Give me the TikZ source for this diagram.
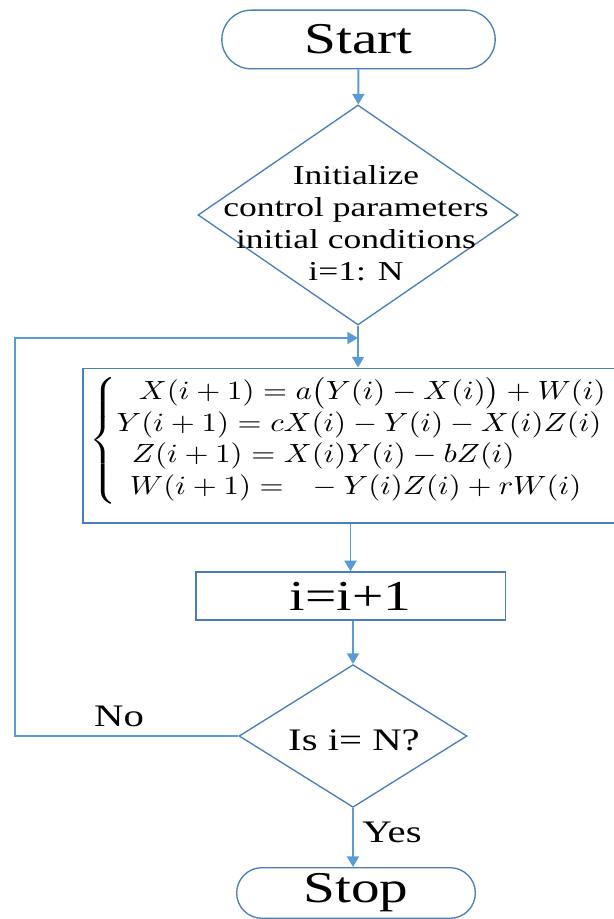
\documentclass[tikz,border=0pt]{standalone}
\usepackage{amsmath}
\usepackage{graphicx}
\usepackage[no-math]{fontspec}
\setmainfont{Liberation Serif}[FakeStretch=1.3]
\usetikzlibrary{arrows.meta, positioning, shapes.geometric, shapes.misc}
\definecolor{fBlue}{HTML}{5B9BD5}
\definecolor{fEdge}{HTML}{4A7EBB}

\begin{document}
\begin{tikzpicture}[x=0.75pt, y=-0.75pt,
    term/.style={draw=fEdge, line width=1pt, rounded rectangle, inner sep=0pt,
                 font=\fontsize{33}{33}\selectfont},
    proc/.style={draw=fEdge, line width=1pt, rectangle, inner sep=0pt},
    cond/.style={draw=fEdge, line width=1pt, diamond, inner sep=0pt},
    txt/.style={inner sep=0pt, align=center},
    lbl/.style={inner sep=0pt, font=\fontsize{23.5}{23.5}\selectfont},
    flow/.style={draw=fBlue, line width=1.4pt, -{Triangle[length=8pt, width=9pt]}},
  ]
    \useasboundingbox (0,0) rectangle (613,919);

    % start and initialisation
    \node[term, minimum width=205pt, minimum height=44pt] (start) at (358.5, 39.5) {Start};
    \node[cond, minimum width=240pt, minimum height=165pt] (init) at (358, 215) {};
    \node[txt, font=\fontsize{20.5}{24}\selectfont] (initt) at (356, 223)
        {Initialize\\control parameters\\initial conditions\\i=1: N};

    % iteration step
    \node[proc, minimum width=400pt, minimum height=116pt] (iter) at (349.5, 445.5) {};
    \node[txt, anchor=north west] (eqs) at (89, 377)
        {\resizebox*{390pt}{95pt}{$\left\{\begin{array}{@{}l@{}}
            \hspace{7.2pt}X(i+1) = a\bigl(Y(i) - X(i)\bigr) + W(i)\\
            Y(i+1) = cX(i) - Y(i) - X(i)Z(i)\\
            \hspace{4.9pt}Z(i+1) = X(i)Y(i) - bZ(i)\\
            \hspace{4.3pt}W(i+1) = {}\;\, -Y(i)Z(i) + rW(i)
          \end{array}\right.$}};
    \node[proc, minimum width=232pt, minimum height=36pt,
          font=\fontsize{32}{32}\selectfont] (incr) at (350.5, 596) {i=i+1};

    % test and end
    \node[cond, minimum width=171pt, minimum height=107pt] (check) at (353, 736) {};
    \node[lbl] (checkt) at (354, 740) {Is i= N?};
    \node[term, minimum width=179pt, minimum height=38pt] (stop) at (356, 893) {Stop};

    \coordinate (join) at (358, 338);
    \coordinate (back) at (15, 338);

    % connectors
    \draw[flow] (start) -- (init);
    \draw[flow] (init.south) -- (init.south |- iter.north);
    \draw[flow] (incr.north |- iter.south) -- (incr.north);
    \draw[flow] (incr.south -| check.north) -- (check.north);
    \draw[flow] (check.south) -- (check.south |- stop.north);
    \draw[flow] (check.west) -| (back) -- (join);
    \node[lbl] (no) at (119, 716) {No};
    \node[lbl] (yes) at (392, 832) {Yes};
\end{tikzpicture}
\end{document}
